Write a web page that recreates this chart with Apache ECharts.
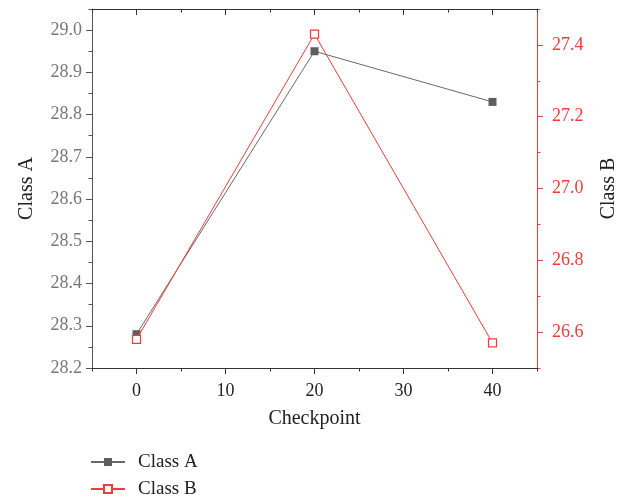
<!DOCTYPE html>
<html>
<head>
<meta charset="utf-8">
<script src="https://cdn.jsdelivr.net/npm/echarts@6/dist/echarts.min.js"></script>
<style>
  html, body { margin: 0; padding: 0; background: #fff; }
  #chart { width: 624px; height: 501px; }
</style>
</head>
<body>
<div id="chart"></div>
<script>
// Checkpoints on the x axis
const checkpoints = [0, 20, 40];
// Measured values for each class
const classA = [28.28, 28.95, 28.83];
const classB = [26.58, 27.43, 26.57];

// Tick positions
const xMajor = [0, 10, 20, 30, 40];
const xMinor = [-5, 5, 15, 25, 35, 45];
const yAMajor = [28.2, 28.3, 28.4, 28.5, 28.6, 28.7, 28.8, 28.9, 29.0];
const yAMinor = [28.25, 28.35, 28.45, 28.55, 28.65, 28.75, 28.85, 28.95, 29.05];
const yBMajor = [26.6, 26.8, 27.0, 27.2, 27.4];
const yBMinor = [26.5, 26.7, 26.9, 27.1, 27.3, 27.5];

const FONT = '"Liberation Serif", "Times New Roman", serif';
const RED = '#f23b3b';
const GRAY_LINE = '#6a6a6a';
const AXIS_DARK = '#333333';

const chart = echarts.init(document.getElementById('chart'), null, { renderer: 'canvas' });

const xBase = { type: 'value', min: -5, max: 45, splitLine: { show: false } };
const yABase = { type: 'value', min: 28.2, max: 29.05, splitLine: { show: false } };
const yBBase = { type: 'value', min: 26.5, max: 27.5, splitLine: { show: false } };
const hiddenLine = { show: false, onZero: false };

chart.setOption({
  animation: false,
  backgroundColor: '#ffffff',
  grid: { left: 92, right: 87, top: 9, bottom: 133, containLabel: false, outerBoundsMode: 'none' },
  legend: {
    orient: 'vertical',
    left: 90,
    top: 452,
    padding: 0,
    itemWidth: 34,
    itemHeight: 10,
    itemGap: 7,
    textStyle: { fontFamily: FONT, fontSize: 19, color: '#222', lineHeight: 20, padding: [0, 0, 0, 8] },
    data: ['Class A', 'Class B']
  },
  xAxis: [
    Object.assign({}, xBase, {
      position: 'bottom',
      name: 'Checkpoint',
      nameLocation: 'middle',
      nameGap: 41,
      nameTextStyle: { fontFamily: FONT, fontSize: 20, color: '#222' },
      axisLine: { show: true, onZero: false, lineStyle: { color: AXIS_DARK, width: 1 } },
      axisTick: { show: true, inside: false, length: 6, customValues: xMajor, lineStyle: { color: AXIS_DARK } },
      axisLabel: { show: true, margin: 14, customValues: xMajor, fontFamily: FONT, fontSize: 18, color: '#222' }
    }),
    Object.assign({}, xBase, {
      position: 'bottom',
      axisLine: hiddenLine,
      axisTick: { show: true, inside: false, length: 3.5, customValues: xMinor, lineStyle: { color: AXIS_DARK } },
      axisLabel: { show: false }
    }),
    Object.assign({}, xBase, {
      position: 'top',
      axisLine: { show: true, onZero: false, lineStyle: { color: AXIS_DARK, width: 1 } },
      axisTick: { show: true, inside: true, length: 6, customValues: xMajor, lineStyle: { color: AXIS_DARK } },
      axisLabel: { show: false }
    }),
    Object.assign({}, xBase, {
      position: 'top',
      axisLine: hiddenLine,
      axisTick: { show: true, inside: true, length: 3.5, customValues: xMinor, lineStyle: { color: AXIS_DARK } },
      axisLabel: { show: false }
    })
  ],
  yAxis: [
    Object.assign({}, yABase, {
      position: 'left',
      name: 'Class A',
      nameLocation: 'middle',
      nameRotate: 90,
      nameGap: 55,
      nameTextStyle: { fontFamily: FONT, fontSize: 20, color: '#222' },
      axisLine: { show: true, onZero: false, lineStyle: { color: '#555', width: 1 } },
      axisTick: { show: true, inside: false, length: 6, customValues: yAMajor, lineStyle: { color: '#555' } },
      axisLabel: {
        show: true, margin: 10, customValues: yAMajor,
        fontFamily: FONT, fontSize: 18, color: '#777',
        formatter: v => v.toFixed(1)
      }
    }),
    Object.assign({}, yABase, {
      position: 'left',
      axisLine: hiddenLine,
      axisTick: { show: true, inside: false, length: 3.5, customValues: yAMinor, lineStyle: { color: '#555' } },
      axisLabel: { show: false }
    }),
    Object.assign({}, yBBase, {
      position: 'right',
      name: 'Class B',
      nameLocation: 'middle',
      nameRotate: 90,
      nameGap: 62,
      nameTextStyle: { fontFamily: FONT, fontSize: 20, color: '#222' },
      axisLine: { show: true, onZero: false, lineStyle: { color: RED, width: 1 } },
      axisTick: { show: true, inside: false, length: 6, customValues: yBMajor, lineStyle: { color: RED } },
      axisLabel: {
        show: true, margin: 15, customValues: yBMajor,
        fontFamily: FONT, fontSize: 18, color: RED,
        formatter: v => v.toFixed(1)
      }
    }),
    Object.assign({}, yBBase, {
      position: 'right',
      axisLine: hiddenLine,
      axisTick: { show: true, inside: false, length: 3.5, customValues: yBMinor, lineStyle: { color: RED } },
      axisLabel: { show: false }
    })
  ],
  series: [
    {
      name: 'Class A',
      type: 'line',
      xAxisIndex: 0,
      yAxisIndex: 0,
      data: checkpoints.map((x, i) => [x, classA[i]]),
      symbol: 'rect',
      symbolSize: 8,
      lineStyle: { color: GRAY_LINE, width: 1 },
      itemStyle: { color: '#5e5e5e', borderColor: '#5e5e5e', borderWidth: 0 },
      z: 3
    },
    {
      name: 'Class B',
      type: 'line',
      xAxisIndex: 0,
      yAxisIndex: 2,
      data: checkpoints.map((x, i) => [x, classB[i]]),
      symbol: 'rect',
      symbolSize: 8,
      lineStyle: { color: RED, width: 1 },
      itemStyle: { color: '#ffffff', borderColor: RED, borderWidth: 1.2 },
      z: 4
    }
  ]
});
</script>
</body>
</html>
